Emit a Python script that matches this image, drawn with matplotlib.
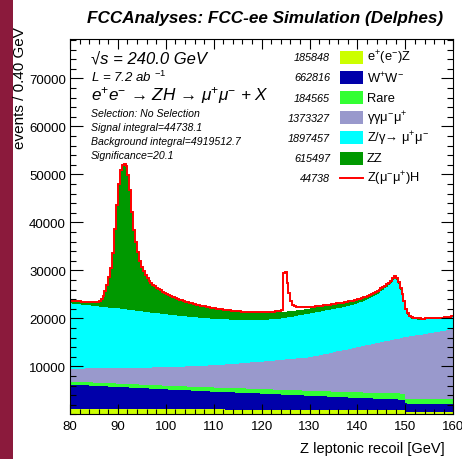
import numpy as np
import matplotlib.pyplot as plt
from matplotlib.patches import Rectangle
from matplotlib.lines import Line2D
from matplotlib.ticker import MultipleLocator

plt.rcParams['font.family'] = ['Liberation Sans', 'DejaVu Sans']
plt.rcParams['mathtext.fontset'] = 'custom'
plt.rcParams['mathtext.rm'] = 'Liberation Sans'
plt.rcParams['mathtext.it'] = 'Liberation Sans:italic'
plt.rcParams['mathtext.bf'] = 'Liberation Sans:bold'

# recoil mass binning: 200 bins of 0.4 GeV
x_min, x_max, n_bins = 80.0, 160.0, 200

# events per bin, one row of 25 bins = 10 GeV
ee_z = [
    1200, 1200, 1190, 1190, 1190, 1190, 1180, 1180, 1180, 1180, 1170, 1170, 1170, 1170, 1160, 1160, 1160, 1160, 1160, 1150, 1150, 1150, 1150, 1140, 1140,
    1140, 1140, 1130, 1130, 1130, 1130, 1120, 1120, 1120, 1120, 1110, 1110, 1110, 1110, 1100, 1100, 1100, 1100, 1100, 1090, 1090, 1090, 1090, 1080, 1080,
    1080, 1080, 1070, 1070, 1070, 1070, 1060, 1060, 1060, 1060, 1050, 1050, 1050, 1050, 1040, 1040, 1040, 1040, 1040, 1030, 1030, 1030, 1030, 1020, 1020,
    1020, 1020, 1010, 1010, 1010, 1010, 1000, 1000, 1000, 1000, 990, 990, 990, 990, 980, 980, 980, 980, 980, 970, 970, 970, 970, 960, 960,
    960, 960, 950, 950, 950, 950, 940, 940, 940, 940, 930, 930, 930, 930, 920, 920, 920, 920, 920, 910, 910, 910, 910, 900, 900,
    900, 900, 900, 890, 890, 890, 890, 890, 890, 880, 880, 880, 880, 880, 880, 870, 870, 870, 870, 870, 870, 860, 860, 860, 860,
    860, 860, 860, 850, 850, 850, 850, 850, 850, 840, 840, 840, 840, 840, 840, 830, 830, 830, 830, 830, 830, 820, 820, 820, 820,
    460, 460, 460, 460, 460, 460, 460, 460, 450, 450, 450, 450, 450, 450, 450, 450, 450, 440, 440, 440, 440, 440, 440, 440, 440,
]
ww = [
    5000, 4980, 4960, 4950, 4930, 4910, 4890, 4870, 4860, 4840, 4820, 4800, 4780, 4770, 4750, 4730, 4710, 4690, 4680, 4660, 4640, 4620, 4600, 4590, 4570,
    4550, 4530, 4510, 4500, 4480, 4460, 4440, 4420, 4410, 4390, 4370, 4350, 4330, 4320, 4300, 4280, 4260, 4240, 4230, 4210, 4190, 4170, 4150, 4140, 4120,
    4100, 4080, 4070, 4050, 4040, 4020, 4000, 3990, 3970, 3960, 3940, 3920, 3910, 3890, 3880, 3860, 3840, 3830, 3810, 3800, 3780, 3760, 3750, 3730, 3720,
    3700, 3690, 3670, 3660, 3640, 3630, 3620, 3600, 3590, 3570, 3560, 3550, 3530, 3520, 3500, 3490, 3480, 3460, 3450, 3430, 3420, 3410, 3390, 3380, 3360,
    3350, 3330, 3320, 3300, 3290, 3270, 3250, 3240, 3220, 3210, 3190, 3170, 3160, 3140, 3130, 3110, 3090, 3080, 3060, 3050, 3030, 3010, 3000, 2980, 2970,
    2950, 2930, 2920, 2900, 2890, 2870, 2850, 2840, 2820, 2810, 2790, 2770, 2760, 2740, 2730, 2710, 2690, 2680, 2660, 2650, 2630, 2610, 2600, 2580, 2570,
    2550, 2540, 2520, 2510, 2500, 2480, 2470, 2450, 2440, 2430, 2410, 2400, 2380, 2370, 2360, 2340, 2330, 2310, 2300, 2290, 2270, 2260, 2240, 2230, 2220,
    1800, 1790, 1790, 1780, 1780, 1770, 1770, 1760, 1760, 1750, 1750, 1740, 1740, 1730, 1730, 1720, 1720, 1710, 1710, 1700, 1700, 1690, 1690, 1680, 1680,
]
rare = [
    620, 620, 630, 630, 640, 640, 640, 650, 650, 650, 660, 660, 660, 670, 670, 670, 680, 680, 680, 690, 690, 690, 700, 700, 700,
    700, 700, 710, 710, 720, 720, 720, 730, 730, 730, 740, 740, 740, 750, 750, 750, 760, 760, 760, 770, 770, 770, 780, 780, 780,
    780, 780, 790, 790, 800, 800, 800, 810, 810, 810, 820, 820, 820, 830, 830, 830, 840, 840, 840, 850, 850, 850, 860, 860, 860,
    860, 860, 870, 870, 880, 880, 880, 890, 890, 890, 900, 900, 900, 910, 910, 910, 920, 920, 920, 930, 930, 930, 940, 940, 940,
    940, 940, 950, 950, 960, 960, 970, 970, 980, 980, 990, 990, 990, 1000, 1000, 1010, 1010, 1020, 1020, 1030, 1030, 1030, 1040, 1040, 1040,
    1040, 1050, 1050, 1060, 1060, 1070, 1070, 1080, 1080, 1090, 1090, 1100, 1100, 1100, 1110, 1110, 1120, 1120, 1130, 1130, 1140, 1140, 1150, 1150, 1160,
    1160, 1170, 1170, 1180, 1180, 1190, 1190, 1200, 1200, 1210, 1210, 1220, 1220, 1220, 1230, 1230, 1240, 1240, 1250, 1250, 1260, 1260, 1270, 1270, 1280,
    930, 930, 930, 940, 940, 940, 940, 950, 950, 950, 950, 950, 960, 960, 960, 960, 970, 970, 970, 970, 970, 980, 980, 980, 980,
]
gg_mumu = [
    2680, 2700, 2730, 2750, 2770, 2800, 2820, 2840, 2870, 2890, 2910, 2930, 2960, 2980, 3000, 3030, 3050, 3070, 3100, 3120, 3140, 3170, 3190, 3210, 3240,
    3260, 3280, 3310, 3330, 3350, 3380, 3400, 3420, 3450, 3470, 3490, 3510, 3540, 3560, 3580, 3610, 3630, 3650, 3680, 3700, 3720, 3750, 3770, 3790, 3820,
    3840, 3870, 3900, 3930, 3960, 3990, 4030, 4060, 4090, 4120, 4150, 4180, 4210, 4240, 4280, 4310, 4340, 4370, 4400, 4430, 4460, 4490, 4530, 4560, 4590,
    4620, 4660, 4710, 4750, 4800, 4840, 4890, 4930, 4980, 5020, 5070, 5110, 5160, 5200, 5250, 5290, 5340, 5380, 5430, 5470, 5520, 5560, 5610, 5650, 5700,
    5750, 5800, 5850, 5900, 5950, 6000, 6050, 6100, 6150, 6200, 6250, 6300, 6350, 6400, 6450, 6500, 6550, 6600, 6650, 6700, 6750, 6800, 6850, 6900, 6950,
    7010, 7100, 7200, 7300, 7400, 7490, 7590, 7690, 7780, 7880, 7980, 8070, 8170, 8270, 8370, 8460, 8560, 8660, 8750, 8850, 8950, 9040, 9140, 9240, 9330,
    9430, 9530, 9620, 9720, 9810, 9910, 10000, 10100, 10190, 10290, 10380, 10480, 10570, 10670, 10760, 10860, 10950, 11050, 11140, 11240, 11330, 11430, 11520, 11620, 11710,
    12910, 12980, 13050, 13120, 13190, 13260, 13320, 13390, 13460, 13530, 13600, 13670, 13740, 13810, 13880, 13950, 14010, 14080, 14150, 14220, 14290, 14360, 14430, 14500, 14570,
]
z_mumu = [
    13600, 13550, 13510, 13460, 13420, 13370, 13320, 13280, 13230, 13190, 13140, 13080, 13030, 12970, 12920, 12860, 12810, 12770, 12720, 12680, 12630, 12580, 12540, 12490, 12450,
    12400, 12340, 12290, 12230, 12180, 12120, 12070, 12010, 11950, 11900, 11840, 11790, 11730, 11670, 11620, 11560, 11500, 11450, 11390, 11340, 11280, 11240, 11190, 11140, 11100,
    11050, 10980, 10920, 10850, 10790, 10720, 10660, 10610, 10550, 10500, 10440, 10380, 10330, 10270, 10220, 10160, 10110, 10070, 10020, 9980, 9930, 9880, 9840, 9790, 9750,
    9700, 9650, 9600, 9540, 9490, 9440, 9390, 9340, 9280, 9230, 9180, 9130, 9090, 9040, 9000, 8950, 8920, 8890, 8850, 8820, 8790, 8770, 8750, 8740, 8720,
    8700, 8680, 8670, 8650, 8640, 8620, 8620, 8620, 8630, 8630, 8640, 8660, 8690, 8710, 8740, 8760, 8790, 8830, 8860, 8900, 8930, 8970, 9020, 9060, 9110,
    9150, 9140, 9130, 9120, 9110, 9100, 9090, 9080, 9070, 9060, 9050, 9040, 9030, 9020, 9010, 9000, 9000, 9010, 9020, 9030, 9050, 9070, 9090, 9110, 9130,
    9150, 9220, 9300, 9370, 9450, 9530, 9660, 9800, 9930, 10070, 10210, 10420, 10640, 10850, 11070, 11290, 11570, 11900, 12430, 12750, 12250, 11300, 10050, 8720, 7280,
    5550, 4590, 4020, 3660, 3450, 3330, 3240, 3170, 3100, 3050, 3000, 2950, 2900, 2860, 2820, 2780, 2740, 2700, 2670, 2640, 2610, 2590, 2580, 2590, 2620,
]
zz = [
    620, 610, 600, 600, 600, 610, 620, 640, 660, 690, 720, 760, 810, 870, 950, 1100, 1500, 2300, 3300, 4600, 6300, 8300, 11500, 16500, 21500,
    26000, 28800, 30000, 30300, 29800, 28000, 25000, 20500, 16800, 14200, 12200, 10500, 9300, 8400, 7700, 7100, 6600, 6200, 5800, 5500, 5200, 5000, 4800, 4600, 4400,
    4250, 4100, 3950, 3800, 3680, 3560, 3450, 3350, 3250, 3160, 3070, 2990, 2910, 2840, 2770, 2700, 2640, 2580, 2520, 2460, 2410, 2360, 2310, 2260, 2220,
    2180, 2140, 2100, 2060, 2030, 2000, 1970, 1940, 1910, 1880, 1850, 1820, 1800, 1770, 1750, 1720, 1700, 1680, 1650, 1630, 1610, 1590, 1570, 1550, 1530,
    1510, 1490, 1470, 1450, 1430, 1410, 1390, 1370, 1350, 1330, 1310, 1290, 1270, 1250, 1230, 1210, 1190, 1170, 1150, 1130, 1110, 1100, 1080, 1060, 1040,
    1030, 1020, 1000, 990, 980, 960, 950, 940, 920, 910, 900, 890, 870, 860, 850, 840, 830, 820, 810, 800, 790, 780, 770, 760, 750,
    740, 730, 720, 710, 700, 680, 670, 650, 640, 620, 600, 590, 570, 550, 530, 510, 490, 470, 450, 430, 410, 390, 370, 350, 330,
    300, 280, 260, 250, 240, 230, 220, 210, 200, 200, 190, 190, 180, 180, 170, 170, 170, 160, 160, 160, 150, 150, 150, 150, 150,
]
zh = [
    20, 20, 20, 20, 20, 20, 20, 20, 20, 20, 20, 20, 20, 20, 20, 20, 20, 20, 20, 20, 20, 20, 20, 20, 20,
    20, 20, 20, 20, 20, 20, 20, 20, 20, 20, 20, 20, 20, 20, 20, 20, 20, 20, 20, 20, 20, 20, 20, 20, 20,
    20, 20, 20, 20, 20, 20, 20, 20, 20, 20, 20, 20, 20, 20, 20, 20, 20, 20, 20, 20, 20, 20, 20, 20, 20,
    20, 20, 20, 20, 20, 20, 20, 20, 20, 20, 20, 20, 20, 20, 20, 20, 20, 20, 20, 20, 20, 20, 20, 20, 20,
    60, 70, 80, 90, 110, 130, 160, 200, 250, 320, 450, 8100, 8200, 5900, 3800, 2100, 1300, 900, 750, 650, 580, 520, 480, 440, 410,
    290, 270, 260, 250, 240, 230, 220, 210, 200, 190, 180, 170, 160, 150, 140, 130, 120, 110, 100, 90, 80, 75, 70, 65, 60,
    55, 55, 50, 50, 50, 45, 45, 45, 40, 40, 40, 40, 35, 35, 35, 35, 35, 30, 30, 30, 30, 30, 30, 30, 30,
    30, 30, 30, 30, 30, 30, 30, 30, 30, 30, 30, 30, 30, 30, 30, 30, 30, 30, 30, 30, 30, 30, 30, 30, 30,
]

# legend: event counts, labels, fill colours (bottom of the stack first)
bkg_counts = ['185848', '662816', '184565', '1373327', '1897457', '615497']
bkg_labels = [r'e$^{+}$(e$^{-}$)Z', r'W$^{+}$W$^{-}$', 'Rare', r'γγμ$^{-}$μ$^{+}$',
              r'Z/γ→ μ$^{+}$μ$^{-}$', 'ZZ']
bkg_colors = ['#ccff00', '#0000aa', '#33ff33', '#9999cc', '#00ffff', '#009900']
sig_count = '44738'
sig_label = r'Z(μ$^{-}$μ$^{+}$)H'
sig_color = '#ff0000'

selection = 'No Selection'
sig_integral = 44738.1
bkg_integral = 4919512.7
significance = 20.1

edges = np.linspace(x_min, x_max, n_bins + 1)
stack = np.cumsum(np.array([ee_z, ww, rare, gg_mumu, z_mumu, zz], dtype=float), axis=0)
total = stack[-1] + np.array(zh, dtype=float)

W, H = 462, 460
fig = plt.figure(figsize=(W / 100, H / 100), dpi=100)
ax = fig.add_axes([70 / W, 1 - 415.3 / H, 383.3 / W, 375.3 / H])

# filled stack, drawn from the top layer down so no seams appear
for top, col in zip(stack[::-1], bkg_colors[::-1]):
    ax.stairs(top, edges, baseline=0, fill=True, color=col, lw=0)
ax.stairs(total, edges, baseline=None, color=sig_color, lw=1.4)

ax.set_xlim(x_min, x_max)
ax.set_ylim(0, 78200)
ax.set_xticks(np.arange(80, 161, 10))
ax.xaxis.set_minor_locator(MultipleLocator(2))
ax.set_yticks(np.arange(10000, 70001, 10000))
ax.yaxis.set_minor_locator(MultipleLocator(2000))
ax.tick_params(which='both', direction='in', top=True, right=True, labelsize=9.5, width=0.8)
ax.tick_params(axis='x', which='major', length=7.5, pad=4)
ax.tick_params(axis='x', which='minor', length=3.8)
ax.tick_params(axis='y', which='major', length=9, pad=3)
ax.tick_params(axis='y', which='minor', length=4.5)
for sp in ax.spines.values():
    sp.set_linewidth(0.8)

ax.set_xlabel('Z leptonic recoil [GeV]', fontsize=10.5)
ax.xaxis.set_label_coords((445 - 70) / 383.3, (415.3 - 449) / 375.3)
ax.xaxis.label.set_horizontalalignment('right')
ax.xaxis.label.set_verticalalignment('center')

# maroon page strip on the left
fig.add_artist(Rectangle((0, 0), 12.5 / W, 1, transform=fig.transFigure,
                         color='#8b1a3c', lw=0, zorder=0))
fig.text(20 / W, 1 - 27 / H, 'events / 0.40 GeV', rotation=90, ha='center', va='top',
         fontsize=11, zorder=5)

fig.text(265 / W, 1 - 18 / H, 'FCCAnalyses: FCC-ee Simulation (Delphes)',
         ha='center', va='center', fontsize=12.3, fontweight='bold', fontstyle='italic')


# analysis info text
def ftext(px, py, s, size, **kw):
    fig.text(px / W, 1 - py / H, s, fontsize=size, fontstyle='italic', va='center', **kw)


ftext(91, 59, '√s = 240.0 GeV', 12)
ftext(91, 77, r'L = 7.2 ab $^{-1}$', 9.5)
ftext(91, 95, r'e$^{+}$e$^{-}$ → ZH → μ$^{+}$μ$^{-}$ + X', 12.3)
ftext(91, 114, 'Selection: ' + selection, 7.6)
ftext(91, 128, 'Signal integral=%.1f' % sig_integral, 7.6)
ftext(91, 142, 'Background integral=%.1f' % bkg_integral, 7.6)
ftext(91, 156, 'Significance=%.1f' % significance, 7.6)

# legend
row_y = 58.3
for cnt, lab, col in zip(bkg_counts, bkg_labels, bkg_colors):
    ftext(330, row_y, cnt, 7.8, ha='right')
    fig.add_artist(Rectangle((340 / W, 1 - (row_y + 6.5) / H), 23 / W, 13 / H,
                             transform=fig.transFigure, color=col, lw=0))
    fig.text(367 / W, 1 - row_y / H, lab, fontsize=9.3, va='center')
    row_y += 20.15
ftext(330, row_y, sig_count, 7.8, ha='right')
fig.add_artist(Line2D([340 / W, 363 / W], [1 - row_y / H] * 2, transform=fig.transFigure,
                      color=sig_color, lw=1.4))
fig.text(367 / W, 1 - row_y / H, sig_label, fontsize=9.3, va='center')

fig.savefig('out.png', dpi=100)
